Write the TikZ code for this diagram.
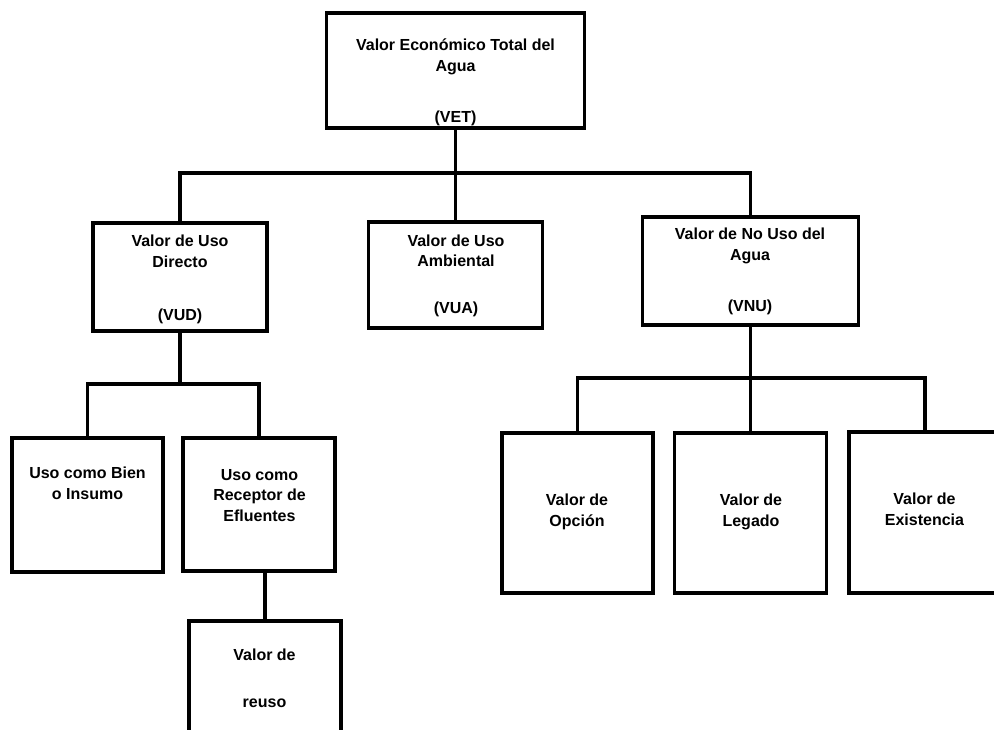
\documentclass[tikz,border=0pt]{standalone}
\usepackage{fontspec}
\setmainfont{Liberation Sans}
\usetikzlibrary{positioning}
\begin{document}
\begin{tikzpicture}[x=1pt, y=-1pt, line width=3.3pt,
    caja/.style = {draw, rectangle, inner sep=0pt},
    texto/.style = {align=center, inner sep=0pt, anchor=base, font=\bfseries\fontsize{16}{20.5}\selectfont}]
\useasboundingbox (0,0) rectangle (994,729);
% cajas
\node[caja, minimum width=258, minimum height=115] (vet) at (455.5,70.5) {};
\node[caja, minimum width=174, minimum height=108] (vud) at (180,277) {};
\node[caja, minimum width=174, minimum height=106] (vua) at (455.5,275) {};
\node[caja, minimum width=216, minimum height=108] (vnu) at (750.5,271) {};
\node[caja, minimum width=151, minimum height=134] (bien) at (87.5,505) {};
\node[caja, minimum width=152, minimum height=133] (efl) at (259,504.5) {};
\node[caja, minimum width=152, minimum height=134] (reuso) at (265,688) {};
\node[caja, minimum width=151, minimum height=160] (opcion) at (577.5,513) {};
\node[caja, minimum width=152, minimum height=160] (legado) at (750.5,513) {};
\node[caja, minimum width=152, minimum height=161] (exist) at (925,512.5) {};
% textos (anclados en la linea base de la ultima linea)
\node[texto] (vettxt) at (455.5,122.7) {Valor Económico Total del\\Agua\\[31pt](VET)};
\node[texto] (vudtxt) at (180,320.7) {Valor de Uso\\Directo\\[33pt](VUD)};
\node[texto] (vuatxt) at (456,313) {Valor de Uso\\Ambiental\\[26pt](VUA)};
\node[texto] (vnutxt) at (750,311.7) {Valor de No Uso del\\Agua\\[31pt](VNU)};
\node[texto] (bientxt) at (87.5,499) {Uso como Bien\\o Insumo};
\node[texto] (efltxt) at (259.5,521) {Uso como\\Receptor de\\Efluentes};
\node[texto] (reusotxt) at (264.5,707) {Valor de\\[26pt]reuso};
\node[texto] (opciontxt) at (577,526) {Valor de\\Opción};
\node[texto] (legadotxt) at (751,526) {Valor de\\Legado};
\node[texto] (existtxt) at (924.5,525) {Valor de\\Existencia};
% conectores
\coordinate (bus1) at (455.5,173);
\coordinate (bus2) at (180,384);
\coordinate (bus3) at (750.5,378);
\draw (vet.south) -- (vua.north);
\draw (vud.north) |- (vnu.north |- bus1) -- (vnu.north);
\draw (vud.south) -- (bus2);
\draw (bien.north) |- (efl.north |- bus2) -- (efl.north);
\draw (efl.south -| reuso.north) -- (reuso.north);
\draw (vnu.south) -- (legado.north);
\draw (opcion.north) |- (exist.north |- bus3) -- (exist.north);
\end{tikzpicture}
\end{document}
